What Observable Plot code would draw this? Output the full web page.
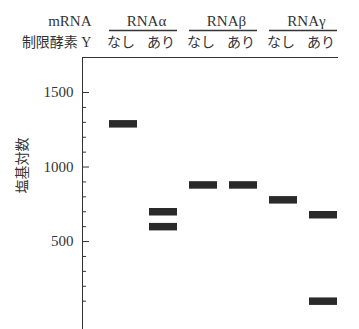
<!DOCTYPE html>
<html>
<head>
<meta charset="utf-8">
<script src="https://cdn.jsdelivr.net/npm/d3@7"></script>
<script src="https://cdn.jsdelivr.net/npm/@observablehq/plot@0.6"></script>
<style>
  html, body { margin: 0; padding: 0; background: #fff; }
  #chart svg, #chart svg text { font-family: "Liberation Serif", "Noto Sans CJK JP", serif !important; }
</style>
</head>
<body>
<div id="chart"></div>
<script>
// ---- data ----
const columns = ["α-なし", "α-あり", "β-なし", "β-あり", "γ-なし", "γ-あり"];
const enzymeLabels = ["なし", "あり", "なし", "あり", "なし", "あり"];
const mrnaNames = ["RNAα", "RNAβ", "RNAγ"];
const mrnaFirst = ["α-なし", "β-なし", "γ-なし"];
const mrnaSecond = ["α-あり", "β-あり", "γ-あり"];
const bandColumns = ["α-なし", "α-あり", "α-あり", "β-なし", "β-あり", "γ-なし", "γ-あり", "γ-あり"];
const bandValues = [1290, 700, 600, 880, 880, 780, 680, 100];
const majorTicks = [500, 1000, 1500];
const minorTicks = [100, 200, 300, 400, 600, 700, 800, 900, 1100, 1200, 1300, 1400];

const bands = bandColumns.map((c, i) => ({column: c, bp: bandValues[i]}));
const pairs = mrnaNames.map((n, i) => ({name: n, first: mrnaFirst[i], second: mrnaSecond[i]}));
const cols = columns.map((c, i) => ({column: c, label: enzymeLabels[i]}));

const ink = "#333";
const serif = '"Liberation Serif", "Noto Sans CJK JP", serif';
const frameWidth = 359 - 82 - 22;

const chart = Plot.plot({
  width: 359,
  height: 329,
  marginLeft: 82,
  marginRight: 22,
  marginTop: 57,
  marginBottom: 0,
  x: {domain: columns, paddingInner: 0.307, paddingOuter: 0.309, align: 1, axis: null},
  y: {domain: [-90, 1735], axis: null},
  style: {fontFamily: serif, fontSize: "15px", color: ink, background: "#fff"},
  marks: [
    Plot.frame({anchor: "left", stroke: ink}),
    Plot.frame({anchor: "top", stroke: ink}),
    Plot.axisY({ticks: majorTicks, tickSize: 0, tickPadding: 9, tickFormat: "d", label: null, fontSize: 15, fill: ink}),
    Plot.tickY(majorTicks, {y: d => d, insetRight: frameWidth - 7, stroke: ink}),
    Plot.tickY(minorTicks, {y: d => d, insetRight: frameWidth - 4, stroke: ink}),
    Plot.text(["塩基対数"], {frameAnchor: "left", dx: -60, rotate: -90, fontSize: 14, fill: ink}),
    Plot.text(["mRNA"], {frameAnchor: "top-left", textAnchor: "end", lineAnchor: "bottom", dx: 9, dy: -31.5, fontSize: 15, fill: ink}),
    Plot.text(["制限酵素 Y"], {frameAnchor: "top-left", textAnchor: "end", lineAnchor: "bottom", dx: 9, dy: -10.5, fontSize: 14, fill: ink}),
    Plot.text(pairs, {x: "first", text: "name", frameAnchor: "top", lineAnchor: "bottom", dx: 23, dy: -31.5, fontSize: 15, fill: ink}),
    Plot.ruleY(pairs, {x1: "first", x2: "second", y: null, dy: -163, stroke: ink, strokeWidth: 1.5}),
    Plot.text(cols, {x: "column", text: "label", frameAnchor: "top", lineAnchor: "bottom", dx: -2.5, dy: -10.5, fontSize: 14, fill: ink}),
    Plot.tickY(bands, {x: "column", y: "bp", stroke: "#2a2a2a", strokeWidth: 7.5})
  ]
});
document.getElementById("chart").appendChild(chart);
</script>
</body>
</html>
